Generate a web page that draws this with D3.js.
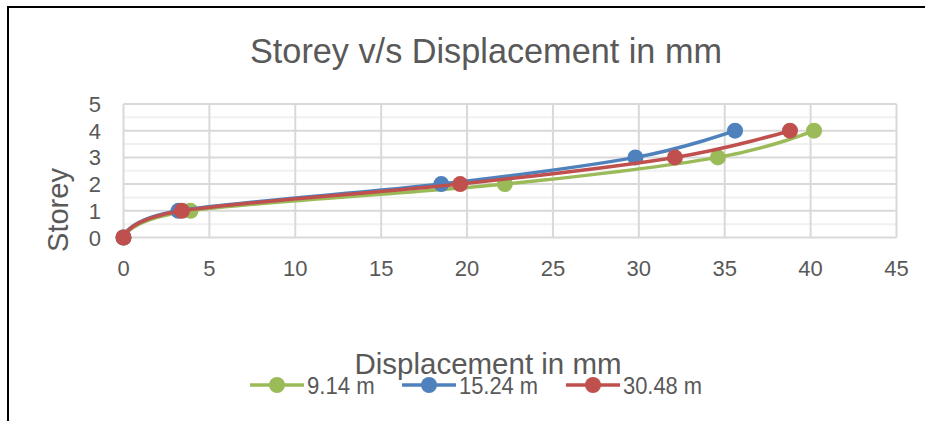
<!DOCTYPE html>
<html>
<head>
<meta charset="utf-8">
<script src="https://cdn.jsdelivr.net/npm/d3@7"></script>
<style>
  body { margin: 0; background: #fff; }
  svg text { font-family: "Liberation Sans", sans-serif; fill: #595959; }
</style>
</head>
<body>
<svg id="chart" width="925" height="421"></svg>
<script>
// values
var storeys = [0, 1, 2, 3, 4];
var disp914 = [0, 3.9, 22.2, 34.6, 40.2];
var disp1524 = [0, 3.2, 18.5, 29.8, 35.6];
var disp3048 = [0, 3.4, 19.6, 32.1, 38.8];
var seriesNames = ["9.14 m", "15.24 m", "30.48 m"];
var seriesColors = ["#9bbb59", "#4f81bd", "#c0504d"];
var xTicks = [0, 5, 10, 15, 20, 25, 30, 35, 40, 45];
var yTicks = [0, 1, 2, 3, 4, 5];

var svg = d3.select("#chart");

// chart frame (only top and left edges visible)
svg.append("line").attr("x1", 8).attr("x2", 925).attr("y1", 7).attr("y2", 7)
  .attr("stroke", "#000").attr("stroke-width", 2);
svg.append("line").attr("x1", 8).attr("x2", 8).attr("y1", 6).attr("y2", 421)
  .attr("stroke", "#000").attr("stroke-width", 2);

var x = d3.scaleLinear().domain([0, 45]).range([123.5, 896.5]);
var y = d3.scaleLinear().domain([0, 5]).range([237.5, 104]);

// minor gridlines
svg.append("g").selectAll("line")
  .data(d3.range(0.5, 5, 1))
  .enter().append("line")
    .attr("x1", x(0)).attr("x2", x(45))
    .attr("y1", d => y(d)).attr("y2", d => y(d))
    .attr("stroke", "#f0f0f0").attr("stroke-width", 2);

// major gridlines
svg.append("g").selectAll("line")
  .data(yTicks.slice(1))
  .enter().append("line")
    .attr("x1", x(0)).attr("x2", x(45))
    .attr("y1", d => y(d)).attr("y2", d => y(d))
    .attr("stroke", "#d9d9d9").attr("stroke-width", 2);
svg.append("g").selectAll("line")
  .data(xTicks)
  .enter().append("line")
    .attr("x1", d => x(d)).attr("x2", d => x(d))
    .attr("y1", y(0)).attr("y2", y(5))
    .attr("stroke", "#d9d9d9").attr("stroke-width", 2);
// x axis line
svg.append("line").attr("x1", x(0)).attr("x2", x(45)).attr("y1", y(0)).attr("y2", y(0))
  .attr("stroke", "#d9d9d9").attr("stroke-width", 2);

// tick labels
svg.append("g").selectAll("text")
  .data(yTicks)
  .enter().append("text")
    .attr("x", 101).attr("y", d => y(d) + 8)
    .attr("text-anchor", "end")
    .attr("font-size", 22)
    .text(d => d);
svg.append("g").selectAll("text")
  .data(xTicks)
  .enter().append("text")
    .attr("x", d => x(d)).attr("y", 276)
    .attr("text-anchor", "middle")
    .attr("font-size", 22)
    .text(d => d);

// titles
svg.append("text").attr("x", 486).attr("y", 63).attr("text-anchor", "middle")
  .attr("font-size", 35).attr("textLength", 472).attr("lengthAdjust", "spacingAndGlyphs")
  .text("Storey v/s Displacement in mm");
svg.append("text").attr("transform", "translate(68,210) rotate(-90)")
  .attr("text-anchor", "middle").attr("font-size", 30)
  .attr("textLength", 84).attr("lengthAdjust", "spacingAndGlyphs").text("Storey");
svg.append("text").attr("x", 488).attr("y", 374).attr("text-anchor", "middle")
  .attr("font-size", 30).attr("textLength", 267).attr("lengthAdjust", "spacingAndGlyphs")
  .text("Displacement in mm");

// series (Excel-style smoothing = uniform Catmull-Rom)
var allDisp = [disp914, disp1524, disp3048];
var line = d3.line()
  .x(d => x(d[0])).y(d => y(d[1]))
  .curve(d3.curveCardinal.tension(0));

allDisp.forEach(function(disp, i) {
  var pts = disp.map((v, j) => [v, storeys[j]]);
  var g = svg.append("g");
  g.append("path").attr("d", line(pts))
    .attr("fill", "none").attr("stroke", seriesColors[i])
    .attr("stroke-width", 3.5).attr("stroke-linecap", "round");
  g.selectAll("circle").data(pts).enter().append("circle")
    .attr("cx", d => x(d[0])).attr("cy", d => y(d[1])).attr("r", 8)
    .attr("fill", seriesColors[i]);
});

// legend
var legendX = [250, 402, 566];
seriesNames.forEach(function(name, i) {
  var g = svg.append("g").attr("transform", "translate(" + legendX[i] + ",385)");
  g.append("line").attr("x1", 0).attr("x2", 54).attr("y1", 0).attr("y2", 0)
    .attr("stroke", seriesColors[i]).attr("stroke-width", 3.5);
  g.append("circle").attr("cx", 27).attr("cy", 0).attr("r", 8).attr("fill", seriesColors[i]);
  g.append("text").attr("x", 57).attr("y", 8.5).attr("font-size", 23)
    .attr("textLength", name.length * 11.3).attr("lengthAdjust", "spacingAndGlyphs").text(name);
});
</script>
</body>
</html>
